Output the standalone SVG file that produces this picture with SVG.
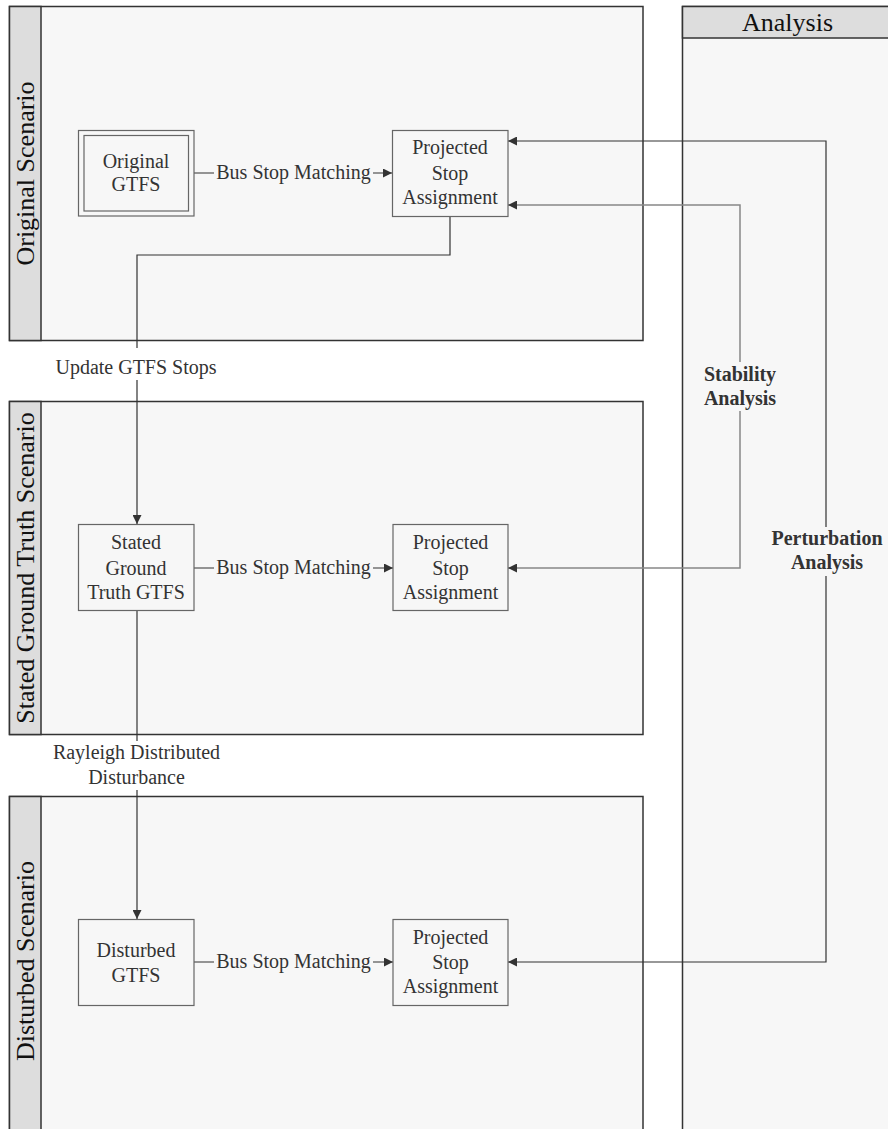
<svg xmlns="http://www.w3.org/2000/svg" width="888" height="1129" viewBox="0 0 888 1129">
<style>
.pool{fill:#f7f7f7;stroke:#333;stroke-width:1.5}
.hdr{fill:#dddddd;stroke:#333;stroke-width:1.5}
.ht{font-family:"Liberation Serif",serif;font-size:26px;fill:#111;text-anchor:middle}
.node{fill:#f7f7f7;stroke:#666;stroke-width:1.2}
.t{font-family:"Liberation Serif",serif;font-size:20px;fill:#333;text-anchor:middle}
.b{font-family:"Liberation Serif",serif;font-size:20px;font-weight:bold;fill:#333;text-anchor:middle}
.c{fill:none;stroke:#333;stroke-width:1.2}
.cg{fill:none;stroke:#888;stroke-width:1.5}
.bgp{fill:#f7f7f7}
.bgw{fill:#ffffff}
</style>
<defs>
<marker id="arr" viewBox="0 0 10 10" refX="10" refY="5" markerWidth="9" markerHeight="9" markerUnits="userSpaceOnUse" orient="auto-start-reverse">
<path d="M0,0 L10,5 L0,10 z" fill="#333"/>
</marker>
</defs>
<g id="pool-original">
<rect class="pool" x="9.5" y="6.5" width="633.5" height="334"/>
<rect class="hdr" x="9.5" y="6.5" width="31.5" height="334"/>
<text class="ht" transform="translate(34,173.5) rotate(-90)">Original Scenario</text>
</g>
<g id="pool-stated">
<rect class="pool" x="9.5" y="401.5" width="633.5" height="333"/>
<rect class="hdr" x="9.5" y="401.5" width="31.5" height="333"/>
<text class="ht" transform="translate(34,568) rotate(-90)">Stated Ground Truth Scenario</text>
</g>
<g id="pool-disturbed">
<rect class="pool" x="9.5" y="796.5" width="633.5" height="340"/>
<rect class="hdr" x="9.5" y="796.5" width="31.5" height="340"/>
<text class="ht" transform="translate(34,961) rotate(-90)">Disturbed Scenario</text>
</g>
<g id="pool-analysis">
<rect class="pool" x="682.5" y="6.5" width="215" height="1130"/>
<rect class="hdr" x="682.5" y="6.5" width="215" height="31.5"/>
<text class="ht" x="787.5" y="31">Analysis</text>
</g>
<g id="connectors">
<path class="c" d="M194,173 H392" marker-end="url(#arr)"/>
<path class="c" d="M194,568 H393" marker-end="url(#arr)"/>
<path class="c" d="M194,962 H393" marker-end="url(#arr)"/>
<path class="c" d="M450,216.5 V255 H137 V524" marker-end="url(#arr)"/>
<path class="c" d="M137,611 V919" marker-end="url(#arr)"/>
<path class="c" d="M508,962 H826 V141 H508" marker-start="url(#arr)" marker-end="url(#arr)"/>
<path class="cg" d="M508,568 H740 V205 H508" marker-start="url(#arr)" marker-end="url(#arr)"/>
<rect class="bgp" x="214" y="159" width="159" height="26"/>
<text class="t" x="293.5" y="179">Bus Stop Matching</text>
<rect class="bgp" x="214" y="554" width="159" height="26"/>
<text class="t" x="293.5" y="574">Bus Stop Matching</text>
<rect class="bgp" x="214" y="948" width="159" height="26"/>
<text class="t" x="293.5" y="968">Bus Stop Matching</text>
<rect class="bgw" x="52" y="348" width="168" height="32"/>
<text class="t" x="136" y="374">Update GTFS Stops</text>
<rect class="bgw" x="50" y="741" width="174" height="49"/>
<text class="t" x="136.5" y="759">Rayleigh Distributed</text>
<text class="t" x="136.5" y="784">Disturbance</text>
<rect class="bgp" x="700" y="362" width="80" height="49"/>
<text class="b" x="740" y="381">Stability</text>
<text class="b" x="740" y="405">Analysis</text>
<rect class="bgp" x="768" y="527" width="118" height="49"/>
<text class="b" x="827" y="545">Perturbation</text>
<text class="b" x="827" y="569">Analysis</text>
</g>
<g id="node-original-gtfs">
<rect class="node" x="78.5" y="130.5" width="115.5" height="85.5"/>
<rect class="node" x="84" y="135.5" width="104.5" height="75.5"/>
<text class="t" x="136" y="168">Original</text>
<text class="t" x="136" y="191">GTFS</text>
</g>
<g id="node-projected-1">
<rect class="node" x="392.5" y="130.5" width="115.5" height="86"/>
<text class="t" x="450" y="154">Projected</text>
<text class="t" x="450" y="180">Stop</text>
<text class="t" x="450" y="204">Assignment</text>
</g>
<g id="node-stated-gtfs">
<rect class="node" x="78.5" y="524.5" width="115.5" height="86"/>
<text class="t" x="136" y="549">Stated</text>
<text class="t" x="136" y="575">Ground</text>
<text class="t" x="136" y="599">Truth GTFS</text>
</g>
<g id="node-projected-2">
<rect class="node" x="393" y="524.5" width="115" height="86"/>
<text class="t" x="450.5" y="549">Projected</text>
<text class="t" x="450.5" y="575">Stop</text>
<text class="t" x="450.5" y="599">Assignment</text>
</g>
<g id="node-disturbed-gtfs">
<rect class="node" x="78.5" y="919.5" width="115.5" height="86"/>
<text class="t" x="136" y="957">Disturbed</text>
<text class="t" x="136" y="982">GTFS</text>
</g>
<g id="node-projected-3">
<rect class="node" x="393" y="919.5" width="115" height="86"/>
<text class="t" x="450.5" y="944">Projected</text>
<text class="t" x="450.5" y="969">Stop</text>
<text class="t" x="450.5" y="993">Assignment</text>
</g>
</svg>
